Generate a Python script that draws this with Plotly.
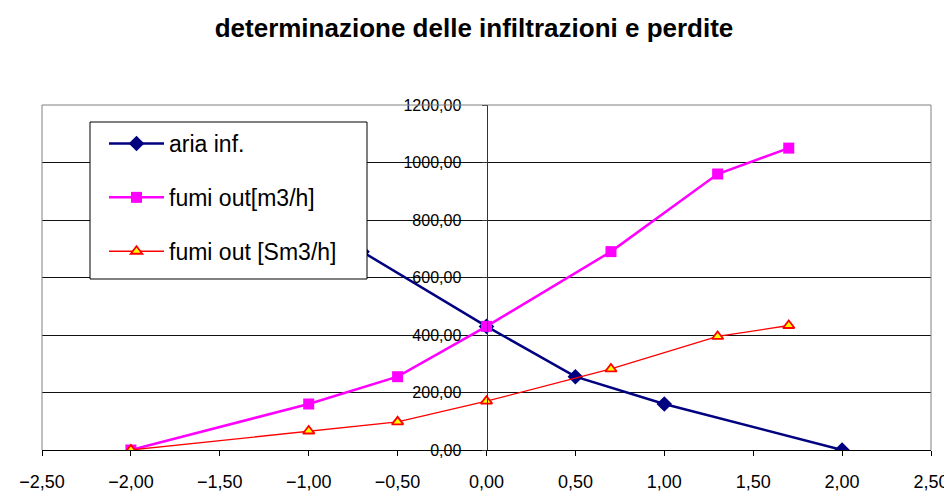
import plotly.graph_objects as go

# ---- data ----
x_fumi = [-2.0, -1.0, -0.5, 0.0, 0.7, 1.3, 1.7]
fumi_m3 = [0, 160, 255, 430, 690, 960, 1050]
fumi_sm3 = [0, 66, 98, 170, 282, 395, 433]
x_aria = [-1.7, -1.3, -0.7, 0.0, 0.5, 1.0, 2.0]
aria_inf = [1050, 960, 690, 430, 255, 160, 0]

names = ["aria inf.", "fumi out[m3/h]", "fumi out [Sm3/h]"]
title_text = "determinazione delle infiltrazioni e perdite"

fig = go.Figure()
fig.add_trace(go.Scatter(
    x=x_aria, y=aria_inf, name=names[0], mode="lines+markers", legendgroup="a",
    line=dict(color="#000080", width=2.5),
    marker=dict(symbol="diamond", size=12, color="#000080")))
fig.add_trace(go.Scatter(
    x=x_fumi, y=fumi_m3, name=names[1], mode="lines+markers", legendgroup="b",
    line=dict(color="#FF00FF", width=2.5),
    marker=dict(symbol="square", size=11, color="#FF00FF")))
fig.add_trace(go.Scatter(
    x=x_fumi, y=fumi_sm3, name=names[2], mode="lines+markers", legendgroup="c",
    line=dict(color="#FF0000", width=1.3),
    marker=dict(symbol="triangle-up", size=10, color="#FFFF00",
                line=dict(color="#FF0000", width=1.8))))

W, H = 952, 503
OFF = 8  # page body margin offset of the figure inside the window
# plot area edges in window pixels (from reference)
px0, px1, py0, py1 = 42, 931, 105, 450
L, R, T, B = px0 - OFF, W - (px1 - OFF), py0 - OFF, H - (py1 - OFF)
pw, ph = W - L - R, H - T - B
# legend box in window pixels (from reference)
bx0, bx1, by0, by1 = 90, 367, 122, 279


def fx(p):
    return (p - OFF - L) / pw


def fy(p):
    return (H - B - (p - OFF)) / ph


border = dict(color="#808080", width=1)
shapes = [
    dict(type="line", xref="paper", yref="paper", x0=0, x1=0, y0=0, y1=1, line=border),
    dict(type="line", xref="paper", yref="paper", x0=1, x1=1, y0=0, y1=1, line=border),
    dict(type="line", xref="paper", yref="paper", x0=0, x1=1, y0=1, y1=1, line=border),
    dict(type="rect", xref="paper", yref="paper", layer="above",
         x0=fx(bx0), x1=fx(bx1), y0=fy(by1), y1=fy(by0),
         fillcolor="white", line=dict(color="black", width=1)),
]

fig.update_layout(
    width=W, height=H,
    margin=dict(l=L, r=R, t=T, b=B, autoexpand=False),
    paper_bgcolor="white", plot_bgcolor="white",
    separators=",.",
    font=dict(family="Liberation Sans, Arial, sans-serif", color="black"),
    title=dict(text="<b>" + title_text + "</b>", x=(474 - OFF) / W, xref="container",
               xanchor="center", y=1 - (28 - OFF) / H, yref="container", yanchor="middle",
               font=dict(size=26, color="black")),
    xaxis=dict(range=[-2.5, 2.5], tick0=-2.5, dtick=0.5, tickformat=".2f",
               ticks="outside", ticklen=5, tickcolor="black",
               showline=True, linecolor="black", linewidth=1,
               showgrid=False, zeroline=False,
               ticklabelstandoff=10,
               tickfont=dict(size=18)),
    yaxis=dict(range=[0, 1200], tick0=0, dtick=200, tickformat=".2f",
               anchor="free", position=0.5,
               ticks="outside", ticklen=5, tickcolor="#333333",
               showline=True, linecolor="#333333", linewidth=1,
               showgrid=True, gridcolor="#111111", gridwidth=1, zeroline=False,
               ticklabelstandoff=17,
               tickfont=dict(size=16)),
    legend=dict(x=fx(bx0 + 14), y=fy(by0), xanchor="left", yanchor="top",
                bgcolor="rgba(0,0,0,0)", borderwidth=0,
                font=dict(size=23), tracegroupgap=21,
                itemwidth=55),
    shapes=shapes,
    showlegend=True,
)

fig.write_html("out.html")
